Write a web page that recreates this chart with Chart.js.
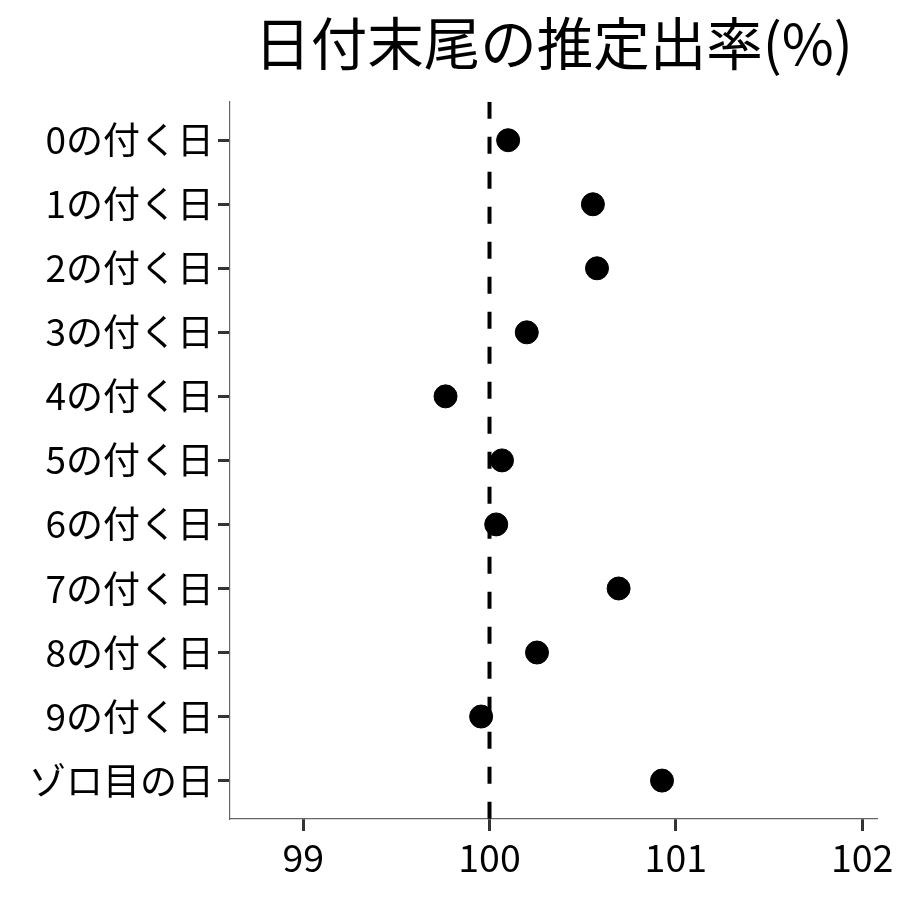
<!DOCTYPE html>
<html>
<head>
<meta charset="utf-8">
<script src="https://cdn.jsdelivr.net/npm/chart.js@4"></script>
<style>
  body { margin: 0; background: #fff; }
  canvas { display: block; }
</style>
</head>
<body>
<canvas id="myChart" width="900" height="900"></canvas>
<script>
// categories, top to bottom
var categories = [
    "0の付く日", "1の付く日", "2の付く日", "3の付く日", "4の付く日",
    "5の付く日", "6の付く日", "7の付く日", "8の付く日", "9の付く日",
    "ゾロ目の日"
];
// estimated payout rate (%)
var rates = [100.10, 100.555, 100.577, 100.20, 99.764, 100.067, 100.036, 100.693, 100.255, 99.955, 100.926];
var xTicks = [99, 100, 101, 102];
var refValue = 100;

var points = [];
categories.forEach((c, i) => {
    points.push({ x: rates[i], y: i });
});

var fontFamily = "'Noto Sans CJK JP', 'Noto Sans', sans-serif";

new Chart("myChart", {
    type: "scatter",
    data: {
        datasets: [{
            data: points,
            backgroundColor: "#000",
            borderColor: "#000",
            pointRadius: 11.5,
            pointHoverRadius: 11.5,
            order: 0
        }, {
            type: "line",
            data: [{ x: refValue, y: -0.6 }, { x: refValue, y: categories.length - 0.4 }],
            borderColor: "#000",
            borderWidth: 4,
            borderDash: [17, 18],
            pointRadius: 0,
            fill: false,
            order: 1
        }]
    },
    options: {
        responsive: false,
        animation: false,
        layout: { padding: { left: 0, right: 23, top: 0, bottom: 0 } },
        plugins: {
            legend: { display: false },
            tooltip: { enabled: false },
            title: {
                display: true,
                text: "日付末尾の推定出率(%)",
                fullSize: false,
                color: "#000",
                font: { family: fontFamily, size: 56.5, weight: "normal" },
                padding: { top: 10, bottom: 24 }
            }
        },
        scales: {
            x: {
                type: "linear",
                min: 98.607,
                max: 102.08,
                afterBuildTicks: s => { s.ticks = xTicks.map(v => ({ value: v })); },
                afterFit: s => { s.height = 81; },
                grid: { drawOnChartArea: false, tickLength: 12, tickColor: "#333", tickWidth: 3 },
                border: { display: true, color: "#666", width: 1.2 },
                ticks: {
                    color: "#000",
                    padding: 4,
                    font: { family: fontFamily, size: 37.5 }
                }
            },
            y: {
                type: "linear",
                reverse: true,
                min: -0.6,
                max: categories.length - 0.4,
                afterBuildTicks: s => { s.ticks = categories.map((c, i) => ({ value: i })); },
                afterFit: s => { s.width = 230; },
                grid: { drawOnChartArea: false, tickLength: 12, tickColor: "#333", tickWidth: 3 },
                border: { display: true, color: "#666", width: 1.2 },
                ticks: {
                    color: "#000",
                    padding: 4,
                    font: { family: fontFamily, size: 37 },
                    callback: v => categories[v]
                }
            }
        }
    }
});
</script>
</body>
</html>
